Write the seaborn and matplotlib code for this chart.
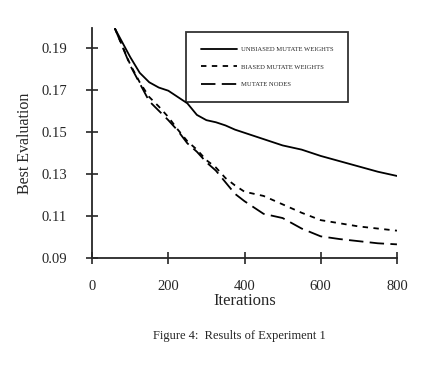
import numpy as np, pandas as pd
import seaborn as sns
import matplotlib.pyplot as plt

sns.set_style("ticks")
plt.rcParams['font.family'] = ['Liberation Serif', 'DejaVu Serif']

iterations = [60, 100, 125, 150, 175, 200, 225, 250, 275, 300, 325, 350, 375, 400, 450, 500,
              550, 600, 650, 700, 750, 800]
unbiased = [0.199, 0.1855, 0.178, 0.1735, 0.171, 0.1695, 0.1665, 0.1635, 0.158, 0.1555, 0.1545,
            0.153, 0.151, 0.1495, 0.1465, 0.1435, 0.1415, 0.1385, 0.136, 0.1335, 0.131, 0.129]
biased = [0.199, 0.182, 0.1735, 0.1665, 0.162, 0.157, 0.151, 0.1455, 0.1415, 0.1365, 0.133,
          0.128, 0.1245, 0.1215, 0.1195, 0.1155, 0.1115, 0.108, 0.1065, 0.105, 0.104, 0.103]
nodes = [0.199, 0.1815, 0.173, 0.1645, 0.16, 0.1555, 0.1505, 0.1445, 0.1405, 0.1355, 0.1315,
         0.126, 0.1205, 0.117, 0.111, 0.109, 0.104, 0.1003, 0.099, 0.098, 0.097, 0.0965]
labels = ["UNBIASED MUTATE WEIGHTS", "BIASED MUTATE WEIGHTS", "MUTATE NODES"]

fig = plt.figure(figsize=(4.47, 3.66), dpi=100)
ax = fig.add_axes([0.206, 0.295, 0.682, 0.628])

sns.lineplot(x=iterations, y=unbiased, ax=ax, color="black", lw=1.3, label=labels[0])
sns.lineplot(x=iterations, y=biased, ax=ax, color="black", lw=1.3, label=labels[1],
             linestyle=(0, (3, 3)))
sns.lineplot(x=iterations, y=nodes, ax=ax, color="black", lw=1.3, label=labels[2],
             linestyle=(0, (8, 3.5)))

ax.set_xlim(0, 800)
ax.set_ylim(0.09, 0.1992)
ax.set_xticks([0, 200, 400, 600, 800])
ax.set_yticks([0.09, 0.11, 0.13, 0.15, 0.17, 0.19])
ax.set_yticklabels(["0.09", "0.11", "0.13", "0.15", "0.17", "0.19"])
ax.tick_params(direction="inout", length=8, width=1.2, labelsize=10.5)
ax.tick_params(axis="y", pad=14)
ax.tick_params(axis="x", pad=12)
for s in ["top", "right"]:
    ax.spines[s].set_visible(False)
for s in ["left", "bottom"]:
    ax.spines[s].set_linewidth(1.3)
ax.set_xlabel("Iterations", fontsize=12, labelpad=0)
ax.set_ylabel("Best Evaluation", fontsize=11.5, labelpad=6)

leg = ax.legend(loc="upper left", bbox_to_anchor=(0.308, 0.984), borderaxespad=0,
                fontsize=4.8, frameon=True, fancybox=False, handlelength=5.4,
                borderpad=2.2, labelspacing=1.75, handletextpad=0.6, edgecolor="black")
leg.get_frame().set_linewidth(1.3)

fig.text(0.535, 0.075, "Figure 4:  Results of Experiment 1", ha="center", fontsize=9)

plt.savefig("out.png", dpi=100)
